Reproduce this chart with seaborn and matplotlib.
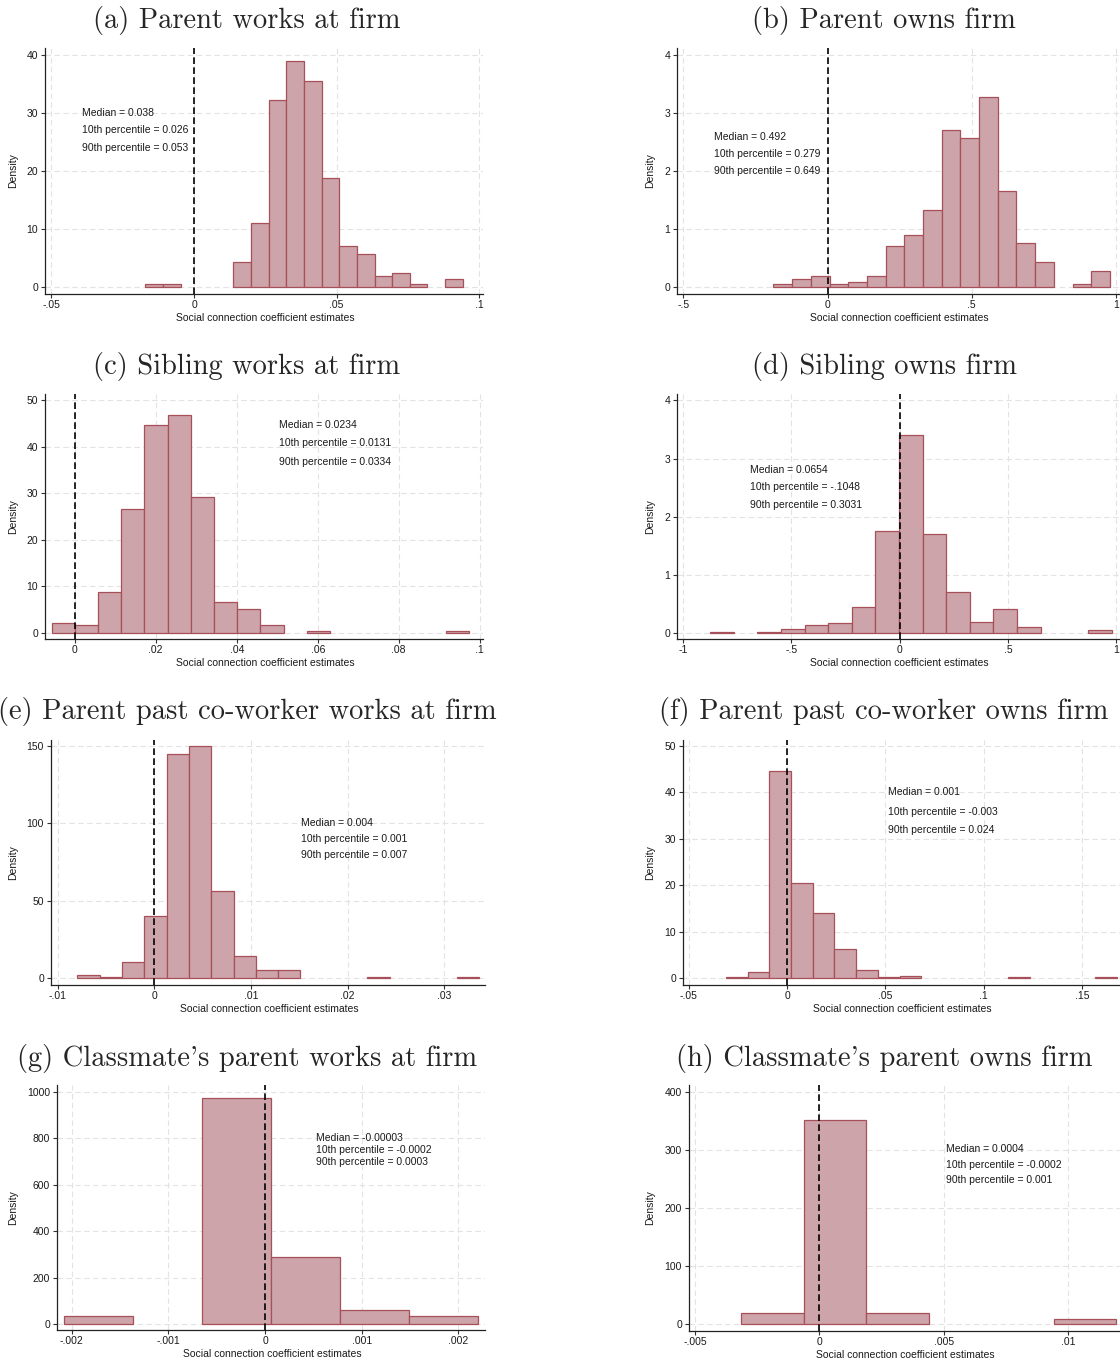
import numpy as np
import pandas as pd
import matplotlib
matplotlib.use("Agg")
import matplotlib.pyplot as plt
import seaborn as sns

sns.set_style("white")
plt.rcParams['font.family'] = ['Liberation Sans', 'DejaVu Sans']

W, H = 1120, 1364
FILL = '#CCA4AA'
EDGE = '#A8505A'

# ---------------- data ----------------
titles = ["(a) Parent works at firm", "(b) Parent owns firm",
          "(c) Sibling works at firm", "(d) Sibling owns firm",
          "(e) Parent past co-worker works at firm", "(f) Parent past co-worker owns firm",
          "(g) Classmate's parent works at firm", "(h) Classmate's parent owns firm"]

bin_start = [-0.01706, -0.1873, -0.00568, -0.8747, -0.00797, -0.0311, -0.002076, -0.003137]
bin_width = [0.006179, 0.06479, 0.005723, 0.10897, 0.0023083, 0.011045, 0.000714, 0.002511]

dens_a = [0.52, 0.52, 0, 0, 0, 4.36, 11.08, 32.25, 39.0, 35.6, 18.77, 7.17, 5.74, 1.89, 2.41, 0.52, 0, 1.43]
dens_b = [0.052, 0.143, 0.189, 0.052, 0.092, 0.189, 0.712, 0.907, 1.331, 2.714, 2.571, 3.283, 1.664,
          0.763, 0.430, 0, 0.052, 0.287]
dens_c = [2.08, 1.65, 8.88, 26.6, 44.6, 46.8, 29.2, 6.73, 5.23, 1.65, 0, 0.5, 0, 0, 0, 0, 0, 0.5]
dens_d = [0.023, 0, 0.023, 0.063, 0.132, 0.166, 0.441, 1.759, 3.398, 1.696, 0.699, 0.189, 0.407,
          0.097, 0, 0, 0.057]
dens_e = [2.37, 1.08, 10.3, 40.0, 144.6, 149.8, 56.6, 14.2, 5.16, 5.16, 0, 0, 0, 1.08, 0, 0, 0, 1.08]
dens_f = [0.22, 1.29, 44.7, 20.5, 14.0, 6.24, 1.87, 0.22, 0.5, 0, 0, 0, 0, 0.22, 0, 0, 0, 0.22]
dens_g = [33, 0, 974, 290, 62, 33]
dens_h = [17.8, 350.6, 17.8, 0, 0, 8.6]
densities = [dens_a, dens_b, dens_c, dens_d, dens_e, dens_f, dens_g, dens_h]

stats_text = [
    ["Median = 0.038", "10th percentile = 0.026", "90th percentile = 0.053"],
    ["Median = 0.492", "10th percentile = 0.279", "90th percentile = 0.649"],
    ["Median = 0.0234", "10th percentile = 0.0131", "90th percentile = 0.0334"],
    ["Median = 0.0654", "10th percentile = -.1048", "90th percentile = 0.3031"],
    ["Median = 0.004", "10th percentile = 0.001", "90th percentile = 0.007"],
    ["Median = 0.001", "10th percentile = -0.003", "90th percentile = 0.024"],
    ["Median = -0.00003", "10th percentile = -0.0002", "90th percentile = 0.0003"],
    ["Median = 0.0004", "10th percentile = -0.0002", "90th percentile = 0.001"],
]
stats_x = [-0.0393, -0.395, 0.0504, -0.692, 0.0152, 0.0512, 0.000524, 0.0051]
stats_y = [[29.96, 27.0, 23.9], [2.594, 2.30, 2.00], [44.8, 40.9, 36.8], [2.797, 2.504, 2.195],
           [100.1, 89.7, 79.8], [40.0, 35.9, 31.85], [799, 750, 699], [300.6, 274, 248]]

xticks = [[-0.05, 0, 0.05, 0.1], [-0.5, 0, 0.5, 1], [0, .02, .04, .06, .08, .1], [-1, -.5, 0, .5, 1],
          [-.01, 0, .01, .02, .03], [-.05, 0, .05, .1, .15], [-.002, -.001, 0, .001, .002],
          [-.005, 0, .005, .01]]
xticklabels = [['-.05', '0', '.05', '.1'], ['-.5', '0', '.5', '1'],
               ['0', '.02', '.04', '.06', '.08', '.1'], ['-1', '-.5', '0', '.5', '1'],
               ['-.01', '0', '.01', '.02', '.03'], ['-.05', '0', '.05', '.1', '.15'],
               ['-.002', '-.001', '0', '.001', '.002'], ['-.005', '0', '.005', '.01']]
yticks = [[0, 10, 20, 30, 40], [0, 1, 2, 3, 4], [0, 10, 20, 30, 40, 50], [0, 1, 2, 3, 4],
          [0, 50, 100, 150], [0, 10, 20, 30, 40, 50], [0, 200, 400, 600, 800, 1000],
          [0, 100, 200, 300, 400]]

# ---------------- layout (pixels) ----------------
rects = [(45, 483, 48, 294), (677, 1120, 48, 294),
         (45, 483, 394, 639), (677, 1120, 394, 639),
         (51, 485, 740, 985), (683, 1120, 740, 985),
         (57, 485, 1085, 1330), (689, 1120, 1085, 1331)]
xlims = [(-0.05222, 0.10128), (-0.5218, 1.0139), (-0.00733, 0.1008), (-1.0277, 1.0169),
         (-0.01069, 0.0342), (-0.0529, 0.1693), (-0.002152, 0.002276), (-0.005241, 0.012091)]
ylims = [(-1.15, 41.2), (-0.115, 4.12), (-1.29, 51.36), (-0.103, 4.109),
         (-4.3, 153.9), (-1.43, 51.29), (-25.8, 1028.7), (-12.6, 411.5)]
title_cx = [247, 884]
title_base = [28, 374, 719, 1066]
ylab_x = [13, 650]

fig = plt.figure(figsize=(W / 100, H / 100), dpi=100)

for i in range(8):
    l, r, t, b = rects[i]
    ax = fig.add_axes([l / W, 1 - b / H, (r - l) / W, (b - t) / H])
    heights = densities[i]
    n = len(heights)
    edges = [bin_start[i] + bin_width[i] * k for k in range(n + 1)]
    centers = [e + bin_width[i] / 2 for e in edges[:-1]]
    df = pd.DataFrame({'coef': centers, 'dens': heights})
    sns.histplot(data=df, x='coef', weights='dens', bins=edges, stat='count', ax=ax,
                 color=FILL, edgecolor=EDGE, linewidth=0.9, alpha=1.0, zorder=2)
    for p in list(ax.patches):
        if p.get_height() <= 0:
            p.remove()
    ax.axvline(0, color='black', linestyle=(0, (4, 2)), linewidth=1.2, zorder=4)

    ax.set_xlim(*xlims[i])
    ax.set_ylim(*ylims[i])
    ax.set_xticks(xticks[i])
    ax.set_xticklabels(xticklabels[i])
    ax.set_yticks(yticks[i])
    ax.set_yticklabels([str(v) for v in yticks[i]])
    ax.set_xlabel('')
    ax.set_ylabel('')
    ax.tick_params(axis='both', which='major', direction='out', length=3, width=0.8,
                   color='#333333', labelsize=7.5, labelcolor='#1a1a1a', bottom=True, left=True)
    ax.tick_params(axis='x', pad=1.0)
    ax.tick_params(axis='y', pad=2.0)
    ax.grid(True, color='#e3e3e3', linestyle=(0, (5, 3)), linewidth=0.8)
    ax.set_axisbelow(True)
    for s in ['top', 'right']:
        ax.spines[s].set_visible(False)
    for s in ['left', 'bottom']:
        ax.spines[s].set_color('#222222')
        ax.spines[s].set_linewidth(0.9)

    for txt, yy in zip(stats_text[i], stats_y[i]):
        ax.text(stats_x[i], yy, txt, fontsize=7.5, color='#1a1a1a', ha='left', va='center', zorder=5)

    col = i % 2
    row = i // 2
    fig.text(title_cx[col] / W, 1 - title_base[row] / H, titles[i],
             family=['cmr10', 'DejaVu Serif'], fontsize=20.5, ha='center', va='baseline')
    fig.text(ylab_x[col] / W, 1 - ((t + b) / 2) / H, 'Density', rotation=90,
             fontsize=7.5, color='#1a1a1a', ha='center', va='center')
    fig.text(((l + r) / 2 + 1) / W, 1 - (b + 24) / H, 'Social connection coefficient estimates',
             fontsize=7.5, color='#1a1a1a', ha='center', va='center')

fig.savefig('out.png', dpi=100)
